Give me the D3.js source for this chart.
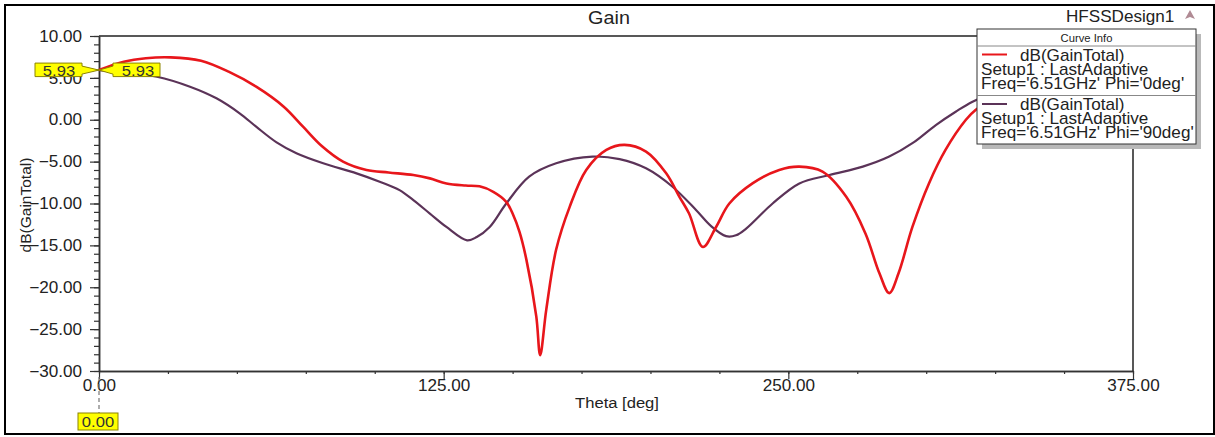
<!DOCTYPE html>
<html>
<head>
<meta charset="utf-8">
<script src="https://cdn.jsdelivr.net/npm/d3@7"></script>
<style>
  body { margin: 0; background: #fff; }
  svg { display: block; font-family: "Liberation Sans", Arial, sans-serif; }
</style>
</head>
<body>
<svg id="chart" width="1215" height="437"></svg>
<script>
// Gain pattern cut, Phi = 0 deg
const thetaPhi0 = [0, 9, 17, 26, 37, 47, 57, 67, 74, 81, 88.5, 97, 105, 114, 120, 126, 133, 138, 143, 147.7,
  150, 152.5, 155, 158.6, 160, 162.2, 165.8, 170.7, 176.7, 184, 190.6, 198.4, 205.7, 210.5, 214, 219, 223.8,
  228.6, 237, 246.7, 254, 262.4, 271, 278, 283, 286.6, 290, 295, 301, 307, 314.4, 318, 330, 345, 360];
const gainPhi0 = [5.93, 6.93, 7.35, 7.45, 7.05, 5.74, 3.95, 1.56, -0.83, -3.2, -5.0, -6.0, -6.3, -6.6, -7.0, -7.6, -7.85, -7.95, -8.6, -9.8,
  -11.2, -13.4, -16.7, -23.5, -28.1, -22.7, -15.5, -10.4, -6.0, -3.6, -3.0, -3.8, -6.4, -9.2, -11.2, -15.2, -12.8,
  -10.0, -7.6, -6.0, -5.6, -6.2, -9.2, -13.6, -18.3, -20.7, -18.3, -12.8, -7.6, -3.6, 0.0, 1.2, 3.6, 5.2, 5.93];

// Gain pattern cut, Phi = 90 deg
const thetaPhi90 = [0, 10, 21, 33, 42.6, 51, 57, 64.4, 71.6, 81.3, 93.4, 101.8, 109, 114, 120, 126, 133.5, 137, 141.7, 147.7,
  156, 165.8, 179, 188.8, 198.4, 208, 216.6, 222, 227.4, 231, 234.7, 244.3, 254, 264.9, 277, 286.6, 295, 303.5,
  310.7, 316.8, 330, 345, 360];
const gainPhi90 = [5.93, 5.6, 5.14, 3.95, 2.56, 0.77, -0.83, -2.7, -4.0, -5.2, -6.4, -7.4, -8.4, -9.6, -11.2, -12.8, -14.4, -14.0, -12.8, -10.0,
  -6.8, -5.2, -4.4, -4.7, -5.8, -8.0, -10.8, -12.7, -13.9, -13.8, -13.0, -10.0, -7.6, -6.6, -5.6, -4.4, -2.8, -0.63,
  0.96, 2.16, 4.0, 5.3, 5.93];

const xTickValues = [0, 125, 250, 375];
const xMinorTicks = [0, 25, 50, 75, 100, 125, 150, 175, 200, 225, 250, 275, 300, 325, 350, 375];
const yTickValues = [-30, -25, -20, -15, -10, -5, 0, 5, 10];
const yMinorTicks = d3.range(-30, 10.5, 1);

const seriesNames = ["dB(GainTotal)", "dB(GainTotal)"];
const seriesSetups = ["Setup1 : LastAdaptive", "Setup1 : LastAdaptive"];
const seriesFreqs = ["Freq='6.51GHz' Phi='0deg'", "Freq='6.51GHz' Phi='90deg'"];
const seriesColors = ["#e8161b", "#5b3358"];

const markerValue = 5.93;
const markerTheta = 0;

// ---- layout ----
const SX = 1.07;               // horizontal glyph stretch of the exported plot
const plot = { left: 99, right: 1133, top: 36, bottom: 371 };
const svg = d3.select("#chart");
const ink = "#222";

const x = d3.scaleLinear().domain([0, 375]).range([plot.left, plot.right]);
const y = d3.scaleLinear().domain([-30, 10]).range([plot.bottom, plot.top]);

function label(g, txt, px, py, size, anchor, fill) {
  return g.append("text")
    .attr("transform", `translate(${px},${py}) scale(${SX},1)`)
    .attr("text-anchor", anchor || "start")
    .attr("font-size", size)
    .attr("fill", fill || ink)
    .text(txt);
}

// outer frame
svg.append("rect").attr("x", 5).attr("y", 5).attr("width", 1209).attr("height", 429)
  .attr("fill", "none").attr("stroke", "#000").attr("stroke-width", 2);

// title and design name
label(svg, "Gain", 609, 24, 18.5, "middle");
label(svg, "HFSSDesign1", 1066, 22, 16, "start");
svg.append("path").attr("d", "M1190,10 L1195,19 L1190,17 L1185,19 Z").attr("fill", "#b08a94");

// plot frame: top and right edges
svg.append("path")
  .attr("d", `M${plot.left},${plot.top} H${plot.right} V${plot.bottom}`)
  .attr("fill", "none").attr("stroke", "#222").attr("stroke-width", 1.5);

// x axis
const gxMinor = svg.append("g").attr("transform", `translate(0,${plot.bottom})`)
  .call(d3.axisBottom(x).tickValues(xMinorTicks).tickSize(3).tickSizeOuter(0).tickFormat(""));
const gx = svg.append("g").attr("transform", `translate(0,${plot.bottom})`)
  .call(d3.axisBottom(x).tickValues(xTickValues).tickSize(8).tickPadding(1).tickSizeOuter(0)
    .tickFormat(d3.format(".2f")));
gx.selectAll("text").attr("font-size", 16).attr("fill", ink)
  .attr("font-family", "'Liberation Sans', Arial, sans-serif")
  .attr("transform", `scale(${SX},1)`);

// y axis
const gyMinor = svg.append("g").attr("transform", `translate(${plot.left},0)`)
  .call(d3.axisLeft(y).tickValues(yMinorTicks).tickSize(5).tickSizeOuter(0).tickFormat(""));
const gy = svg.append("g").attr("transform", `translate(${plot.left},0)`)
  .call(d3.axisLeft(y).tickValues(yTickValues).tickSize(9).tickPadding(8).tickSizeOuter(0)
    .tickFormat(d3.format(".2f")));
gy.selectAll("text").attr("font-size", 16).attr("fill", ink)
  .attr("font-family", "'Liberation Sans', Arial, sans-serif")
  .attr("x", -17 / SX)
  .attr("transform", `scale(${SX},1)`);

[gxMinor, gx, gyMinor, gy].forEach(g => {
  g.selectAll("path.domain").attr("stroke", "#333").attr("stroke-width", 1.5);
  g.selectAll(".tick line").attr("stroke", "#333").attr("stroke-width", 1.2);
});

// axis titles
label(svg, "Theta [deg]", 617, 408, 15.5, "middle");
svg.append("text")
  .attr("transform", `translate(31,205) rotate(-90)`)
  .attr("text-anchor", "middle").attr("font-size", 15.5).attr("fill", ink)
  .text("dB(GainTotal)");

// curves
const line = d3.line()
  .x(d => x(d[0])).y(d => y(d[1]))
  .curve(d3.curveCatmullRom.alpha(0.5));

const series = [
  d3.zip(thetaPhi0, gainPhi0),
  d3.zip(thetaPhi90, gainPhi90)
];
const widths = [2.6, 2.2];
[1, 0].forEach(i => {
  svg.append("path").datum(series[i])
    .attr("d", line)
    .attr("fill", "none")
    .attr("stroke", seriesColors[i])
    .attr("stroke-width", widths[i])
    .attr("stroke-linejoin", "round");
});

// marker callouts at theta = 0
const mx = x(markerTheta), my = y(markerValue);
const callout = svg.append("g");
callout.append("path")
  .attr("d", `M${mx - 64},${my - 7} H${mx - 17} V${my - 4} L${mx},${my} L${mx - 17},${my + 4} V${my + 6.5} H${mx - 64} Z`)
  .attr("fill", "#ffff00").attr("stroke", "#8c8400").attr("stroke-width", 1);
callout.append("path")
  .attr("d", `M${mx + 61},${my - 7} H${mx + 14} V${my - 4} L${mx},${my} L${mx + 14},${my + 4} V${my + 6.5} H${mx + 61} Z`)
  .attr("fill", "#ffff00").attr("stroke", "#8c8400").attr("stroke-width", 1);
label(callout, d3.format(".2f")(markerValue), mx - 40, my + 6, 15.5, "middle", "#333");
label(callout, d3.format(".2f")(markerValue), mx + 39, my + 6, 15.5, "middle", "#333");

// x marker under the axis
svg.append("line")
  .attr("x1", mx).attr("x2", mx).attr("y1", plot.bottom + 6).attr("y2", 413)
  .attr("stroke", "#777").attr("stroke-width", 1.2).attr("stroke-dasharray", "4,3");
svg.append("rect").attr("x", mx - 21).attr("y", 413).attr("width", 40).attr("height", 17)
  .attr("fill", "#ffff00").attr("stroke", "#8c8400").attr("stroke-width", 1);
label(svg, d3.format(".2f")(markerTheta), mx - 1, 427, 15.5, "middle", "#333");

// curve info box
const lg = svg.append("g");
const box = { x: 977, y: 29, w: 219, h: 115 };
lg.append("rect").attr("x", box.x + 5).attr("y", box.y + 5).attr("width", box.w).attr("height", box.h)
  .attr("fill", "#b9b9b9");
lg.append("rect").attr("x", box.x).attr("y", box.y).attr("width", box.w).attr("height", box.h)
  .attr("fill", "#fff").attr("stroke", "#333").attr("stroke-width", 1);
label(lg, "Curve Info", box.x + box.w / 2, 42, 10.5, "middle");
lg.append("line").attr("x1", box.x).attr("x2", box.x + box.w).attr("y1", 46).attr("y2", 46)
  .attr("stroke", "#888").attr("stroke-width", 1);
lg.append("line").attr("x1", box.x).attr("x2", box.x + box.w).attr("y1", 95.5).attr("y2", 95.5)
  .attr("stroke", "#888").attr("stroke-width", 1);

seriesNames.forEach((name, i) => {
  const top = 46 + i * 49.5;
  lg.append("line")
    .attr("x1", 982).attr("x2", 1007).attr("y1", top + 8.5).attr("y2", top + 8.5)
    .attr("stroke", seriesColors[i]).attr("stroke-width", 2);
  label(lg, name, 1020, top + 14.5, 16, "start");
  label(lg, seriesSetups[i], 981, top + 28.5, 16, "start");
  label(lg, seriesFreqs[i], 981, top + 42.5, 16, "start");
});
</script>
</body>
</html>
